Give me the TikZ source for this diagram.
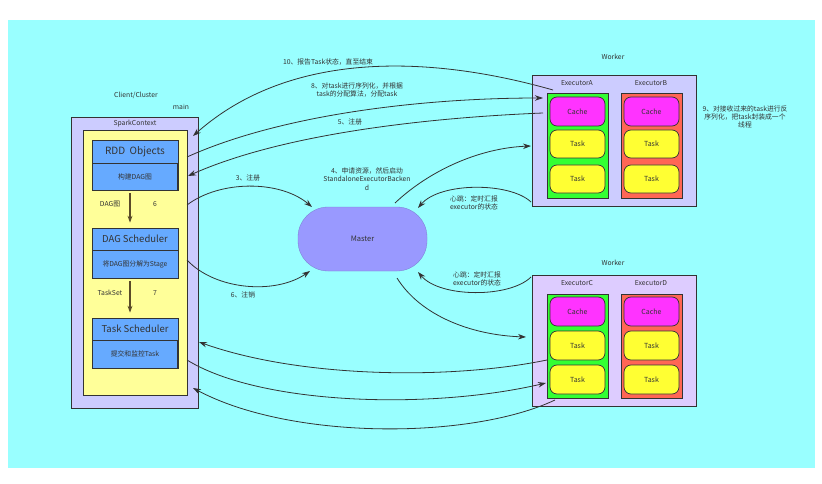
\documentclass[tikz,border=0pt]{standalone}
\usepackage{fontspec}
\setmainfont{Noto Sans CJK SC}
\usetikzlibrary{arrows.meta,calc}
\definecolor{bgcyan}{HTML}{99FFFF}
\definecolor{lav}{HTML}{CCCCFF}
\definecolor{lav2}{HTML}{DDCCFF}
\definecolor{ylw}{HTML}{FFFF99}
\definecolor{blu}{HTML}{66AAFF}
\definecolor{mst}{HTML}{9999FF}
\definecolor{grn}{HTML}{33FF33}
\definecolor{rd}{HTML}{FF6655}
\definecolor{mag}{HTML}{FF33FF}
\definecolor{tsk}{HTML}{FFFF33}
\definecolor{ln}{HTML}{333333}
\definecolor{olive}{HTML}{5A4A28}
\tikzset{
  box/.style={draw=ln, line width=0.7pt, inner sep=0pt},
  lbl/.style={text=ln, font=\fontsize{6.8}{8.2}\selectfont, align=center, inner sep=0pt},
  pill/.style={box, rounded corners=7pt, minimum width=55pt, font=\fontsize{7}{8}\selectfont},
  conn/.style={draw=ln, line width=0.8pt, -{Stealth[length=8pt,width=5.5pt]}},
  down/.style={draw=olive, line width=1.4pt, -{Stealth[length=7pt,width=5pt]}}
}
\begin{document}
\begin{tikzpicture}[x=1pt,y=-1pt]
\useasboundingbox (0,0) rectangle (822,484);
\fill[white] (0,0) rectangle (822,484);
\node[fill=bgcyan, minimum width=807pt, minimum height=448pt, inner sep=0pt, anchor=north west] (bg) at (8,20) {};

% Client side
\node[lbl] (clientlbl) at (136,95) {Client/Cluster};
\node[lbl] (mainlbl) at (181,107) {main};
\node[box, fill=lav, minimum width=127pt, minimum height=291pt] (client) at (134.5,262.5) {};
\node[lbl] (sclbl) at (135,124) {SparkContext};
\node[box, fill=ylw, minimum width=104pt, minimum height=265pt] (yellow) at (135,262.5) {};

\node[box, fill=blu, minimum width=86pt, minimum height=23pt, font=\fontsize{10}{11}\selectfont, text=ln] (rddT) at (135,151.5) {RDD\ \ Objects};
\node[box, fill=blu, minimum width=86pt, minimum height=27pt, font=\fontsize{6.8}{8}\selectfont, text=ln] (rddB) at (135,176.5) {构建DAG图};
\node[box, fill=blu, minimum width=86pt, minimum height=22pt, font=\fontsize{9.5}{11}\selectfont, text=ln] (dagT) at (135,239) {DAG Scheduler};
\node[box, fill=blu, minimum width=86pt, minimum height=28pt, font=\fontsize{6.8}{8}\selectfont, text=ln] (dagB) at (135,264) {将DAG图分解为Stage};
\node[box, fill=blu, minimum width=86pt, minimum height=22pt, font=\fontsize{9.5}{11}\selectfont, text=ln] (tsT) at (135,329) {Task Scheduler};
\node[box, fill=blu, minimum width=86pt, minimum height=28pt, font=\fontsize{6.8}{8}\selectfont, text=ln] (tsB) at (135,354) {提交和监控Task};
\foreach \n in {rddB,tsB}{
  \draw[ln, line width=1.4pt] ($(\n.north east)+(-0.5,1)$) -- ($(\n.south east)+(-0.5,0)$);
}

\draw[down] ($(rddB.south)+(-5,3)$) -- ($(dagT.north)+(-5,-5)$);
\draw[down] ($(dagB.south)+(-5,3)$) -- ($(tsT.north)+(-5,-5)$);
\node[lbl] (daglbl) at (110,204) {DAG图};
\node[lbl] (six) at (155,204) {6};
\node[lbl] (tslbl) at (110,293) {TaskSet};
\node[lbl] (seven) at (155,293) {7};

% Master
\node[box, draw=mst!80!black, line width=0.3pt, fill=mst, minimum width=129pt, minimum height=64pt, rounded corners=30pt, font=\fontsize{7.5}{9}\selectfont, text=ln] (master) at (362.5,239) {Master};

% Worker top
\node[lbl] (w1lbl) at (613,57) {Worker};
\node[box, fill=lav, minimum width=164pt, minimum height=131pt] (w1) at (614,140.5) {};
\node[lbl] (exAl) at (577,83) {ExecutorA};
\node[lbl] (exBl) at (651,83) {ExecutorB};
\node[box, fill=grn, minimum width=61pt, minimum height=105pt] (exA) at (577.5,145.5) {};
\node[box, fill=rd, minimum width=61pt, minimum height=105pt] (exB) at (651.5,145.5) {};
\node[pill, fill=mag, minimum height=29pt, text=ln] (cA) at (577.5,111.5) {Cache};
\node[pill, fill=tsk, minimum height=28pt, text=ln] (tA1) at (577.5,144) {Task};
\node[pill, fill=tsk, minimum height=28pt, text=ln] (tA2) at (577.5,179) {Task};
\node[pill, fill=mag, minimum height=29pt, text=ln] (cB) at (651.5,111.5) {Cache};
\node[pill, fill=tsk, minimum height=28pt, text=ln] (tB1) at (651.5,144) {Task};
\node[pill, fill=tsk, minimum height=28pt, text=ln] (tB2) at (651.5,179) {Task};
\node[lbl] (nine) at (745,117) {9、对接收过来的task进行反\\序列化，把task封装成一个\\线程};

% Worker bottom
\node[lbl] (w2lbl) at (613,263) {Worker};
\node[box, fill=lav2, minimum width=164pt, minimum height=131pt] (w2) at (614,340.5) {};
\node[lbl] (exCl) at (577,283) {ExecutorC};
\node[lbl] (exDl) at (651,283) {ExecutorD};
\node[box, fill=grn, minimum width=61pt, minimum height=104pt] (exC) at (577.5,346) {};
\node[box, fill=rd, minimum width=61pt, minimum height=104pt] (exD) at (651.5,346) {};
\node[pill, fill=mag, minimum height=29pt, text=ln] (cC) at (577.5,311.5) {Cache};
\node[pill, fill=tsk, minimum height=29pt, text=ln] (tC1) at (577.5,345.5) {Task};
\node[pill, fill=tsk, minimum height=29pt, text=ln] (tC2) at (577.5,379.5) {Task};
\node[pill, fill=mag, minimum height=29pt, text=ln] (cD) at (651.5,311.5) {Cache};
\node[pill, fill=tsk, minimum height=29pt, text=ln] (tD1) at (651.5,345.5) {Task};
\node[pill, fill=tsk, minimum height=29pt, text=ln] (tD2) at (651.5,379.5) {Task};

% connector endpoints
\coordinate (e10s) at (553,90);   \coordinate (e10e) at (193,136);
\coordinate (e8s) at (187,157);   \coordinate (e8e) at (543,98);
\coordinate (e5s) at (543,113);   \coordinate (e5e) at (188,176);
\coordinate (e3s) at (187,205);   \coordinate (e3e) at (312,207);
\coordinate (e6s) at (187,260);   \coordinate (e6e) at (310,271);
\coordinate (e4s) at (395,203);   \coordinate (e4e) at (531,146);
\coordinate (h1s) at (531,202);   \coordinate (h1e) at (418,208);
\coordinate (h2s) at (531,277);   \coordinate (h2e) at (418,272);
\coordinate (m2s) at (397,278);   \coordinate (m2e) at (526,337);
\coordinate (b1s) at (547,360);   \coordinate (b1e) at (199,342);
\coordinate (b2s) at (187,360);   \coordinate (b2e) at (546,383);
\coordinate (b3s) at (555,400);   \coordinate (b3e) at (193,388);

\draw[conn] (e10s) .. controls (430,55) and (290,50) .. (e10e);
\draw[conn] (e8s) .. controls (280,115) and (420,98) .. (e8e);
\draw[conn] (e5s) .. controls (420,118) and (280,135) .. (e5e);
\draw[conn] (e3s) .. controls (220,180) and (280,180) .. (e3e);
\draw[conn] (e6s) .. controls (215,290) and (275,295) .. (e6e);
\draw[conn] (e4s) .. controls (430,170) and (480,148) .. (e4e);
\draw[conn] (h1s) .. controls (510,182) and (440,182) .. (h1e);
\draw[conn] (h2s) .. controls (510,298) and (440,298) .. (h2e);
\draw[conn] (m2s) .. controls (420,315) and (470,335) .. (m2e);
\draw[conn] (b1s) .. controls (450,380) and (300,378) .. (b1e);
\draw[conn] (b2s) .. controls (260,405) and (430,410) .. (b2e);
\draw[conn] (b3s) .. controls (470,440) and (290,440) .. (b3e);

% connector labels
\node[lbl] (l10) at (328,62) {10、报告Task状态，直至结束};
\node[lbl] (l8) at (357,90) {8、对task进行序列化，并根据\\task的分配算法，分配task};
\node[lbl] (l5) at (350,122) {5、注册};
\node[lbl] (l3) at (248,178) {3、注册};
\node[lbl] (l6) at (243,295) {6、注销};
\node[lbl] (l4) at (367,179) {4、申请资源，然后启动\\StandaloneExecutorBacken\\d};
\node[lbl] (lh1) at (474,203) {心跳：定时汇报\\executor的状态};
\node[lbl] (lh2) at (477,279) {心跳：定时汇报\\executor的状态};
\end{tikzpicture}
\end{document}
